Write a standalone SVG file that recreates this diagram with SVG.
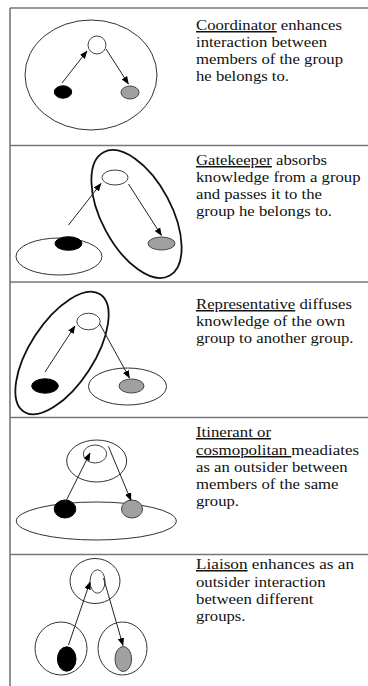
<svg xmlns="http://www.w3.org/2000/svg" width="368" height="686" viewBox="0 0 368 686">
<defs>
<marker id="ah" markerUnits="userSpaceOnUse" markerWidth="8" markerHeight="8" viewBox="0 0 8 8" refX="7.5" refY="4" orient="auto">
<path d="M0,0.8 L8,4 L0,7.2 Z" fill="#000"/>
</marker>
</defs>
<style>
.frame{stroke:#777;stroke-width:1.6;fill:none}
.grp{fill:none;stroke:#333;stroke-width:1}
.grpb{fill:none;stroke:#111;stroke-width:1.8}
.w{fill:#fff;stroke:#444;stroke-width:1}
.b{fill:#000;stroke:#000;stroke-width:1}
.g{fill:#a0a0a0;stroke:#444;stroke-width:1}
.arr{stroke:#222;stroke-width:1;fill:none;marker-end:url(#ah)}
text{font-family:"Liberation Serif","Times New Roman",serif;font-size:15px;fill:#111}
.u{text-decoration:underline}
</style>
<rect width="368" height="686" fill="#fff"/>
<g id="frame">
<path class="frame" d="M10,8 H368 M10,8 V686 M10,145.5 H368 M10,282 H368 M10,417.5 H368 M10,554.5 H368"/>
</g>
<g id="panel1">
<ellipse class="grp" cx="91" cy="75" rx="66" ry="55"/>
<ellipse id="p1-coord" class="w" cx="97" cy="45" rx="9" ry="9"/>
<ellipse id="p1-m1" class="b" cx="63" cy="92" rx="8.7" ry="6.2"/>
<ellipse id="p1-m2" class="g" cx="130" cy="92.5" rx="9" ry="6.5"/>
<text x="196" y="30" textLength="146" lengthAdjust="spacingAndGlyphs"><tspan class="u">Coordinator</tspan> enhances</text>
<text x="196" y="47" textLength="131" lengthAdjust="spacingAndGlyphs">interaction between</text>
<text x="196" y="64" textLength="147" lengthAdjust="spacingAndGlyphs">members of the group</text>
<text x="196" y="81" textLength="93" lengthAdjust="spacingAndGlyphs">he belongs to.</text>
</g>
<g id="panel2">
<ellipse class="grp" cx="59" cy="256.5" rx="43" ry="18.5"/>
<ellipse class="grpb" cx="136.5" cy="214" rx="35" ry="70" transform="rotate(-28 136.5 214)"/>
<ellipse id="p2-gk" class="w" cx="115" cy="177.5" rx="13" ry="7.5"/>
<ellipse id="p2-m1" class="b" cx="68.5" cy="243.5" rx="13.5" ry="6.8"/>
<ellipse id="p2-m2" class="g" cx="161.5" cy="243.5" rx="13.5" ry="6.5"/>
<text x="196" y="165" textLength="131" lengthAdjust="spacingAndGlyphs"><tspan class="u">Gatekeeper</tspan> absorbs</text>
<text x="196" y="182" textLength="164.5" lengthAdjust="spacingAndGlyphs">knowledge from a group</text>
<text x="196" y="199" textLength="126" lengthAdjust="spacingAndGlyphs">and passes it to the</text>
<text x="196" y="216" textLength="136" lengthAdjust="spacingAndGlyphs">group he belongs to.</text>
</g>
<g id="panel3">
<ellipse class="grpb" cx="62" cy="353" rx="32" ry="70" transform="rotate(33 62 353)"/>
<ellipse class="grp" cx="127.5" cy="386.5" rx="39" ry="18.5"/>
<ellipse id="p3-rep" class="w" cx="88.5" cy="321.5" rx="11.7" ry="8.3"/>
<ellipse id="p3-m1" class="b" cx="45" cy="386" rx="13.3" ry="7.2"/>
<ellipse id="p3-m2" class="g" cx="131.5" cy="386" rx="12.5" ry="7"/>
<text x="196" y="309" textLength="156" lengthAdjust="spacingAndGlyphs"><tspan class="u">Representative</tspan> diffuses</text>
<text x="196" y="326" textLength="149" lengthAdjust="spacingAndGlyphs">knowledge of the own</text>
<text x="196" y="343" textLength="157.5" lengthAdjust="spacingAndGlyphs">group to another group.</text>
</g>
<g id="panel4">
<ellipse class="grp" cx="96.7" cy="461" rx="30" ry="21"/>
<ellipse class="grp" cx="96.3" cy="521" rx="80" ry="19"/>
<ellipse id="p4-it" class="w" cx="95" cy="454" rx="11.7" ry="9"/>
<ellipse id="p4-m1" class="b" cx="65" cy="509" rx="10.8" ry="9"/>
<ellipse id="p4-m2" class="g" cx="132" cy="509" rx="10.5" ry="9"/>
<text x="196" y="437" textLength="75" lengthAdjust="spacingAndGlyphs"><tspan class="u">Itinerant or</tspan></text>
<text x="196" y="455" textLength="163" lengthAdjust="spacingAndGlyphs"><tspan class="u">cosmopolitan </tspan>meadiates</text>
<text x="196" y="472" textLength="151.5" lengthAdjust="spacingAndGlyphs">as an outsider between</text>
<text x="196" y="489" textLength="142.5" lengthAdjust="spacingAndGlyphs">members of the same</text>
<text x="196" y="506" textLength="43" lengthAdjust="spacingAndGlyphs">group.</text>
</g>
<g id="panel5">
<ellipse class="grp" cx="95" cy="581" rx="25" ry="22.5"/>
<ellipse class="grp" cx="61" cy="648.5" rx="26" ry="26.5"/>
<ellipse class="grp" cx="122.5" cy="648.5" rx="24.5" ry="26.5"/>
<ellipse id="p5-li" class="w" cx="97.5" cy="581.5" rx="7.5" ry="11.7"/>
<ellipse id="p5-m1" class="b" cx="66.7" cy="659" rx="9.3" ry="12.2"/>
<ellipse id="p5-m2" class="g" cx="123.3" cy="659" rx="8.3" ry="12.5"/>
<text x="196" y="569" textLength="158" lengthAdjust="spacingAndGlyphs"><tspan class="u">Liaison</tspan> enhances as an</text>
<text x="196" y="587" textLength="129.5" lengthAdjust="spacingAndGlyphs">outsider interaction</text>
<text x="196" y="604" textLength="117.5" lengthAdjust="spacingAndGlyphs">between different</text>
<text x="196" y="621" textLength="49.5" lengthAdjust="spacingAndGlyphs">groups.</text>
</g>
<g id="connectors">
<line class="arr" x1="62" y1="83" x2="87" y2="51"/>
<line class="arr" x1="106" y1="49" x2="128.5" y2="84"/>
<line class="arr" x1="68.5" y1="225" x2="101" y2="183.5"/>
<line class="arr" x1="128.5" y1="184" x2="161.5" y2="235.5"/>
<line class="arr" x1="45" y1="372" x2="75" y2="326"/>
<line class="arr" x1="99.5" y1="323.5" x2="129.5" y2="378"/>
<line class="arr" x1="65" y1="503" x2="90" y2="453"/>
<line class="arr" x1="108.5" y1="446.5" x2="131" y2="500.5"/>
<line class="arr" x1="68.5" y1="645" x2="90" y2="582"/>
<line class="arr" x1="103.5" y1="578" x2="123" y2="645.5"/>
</g>
</svg>
